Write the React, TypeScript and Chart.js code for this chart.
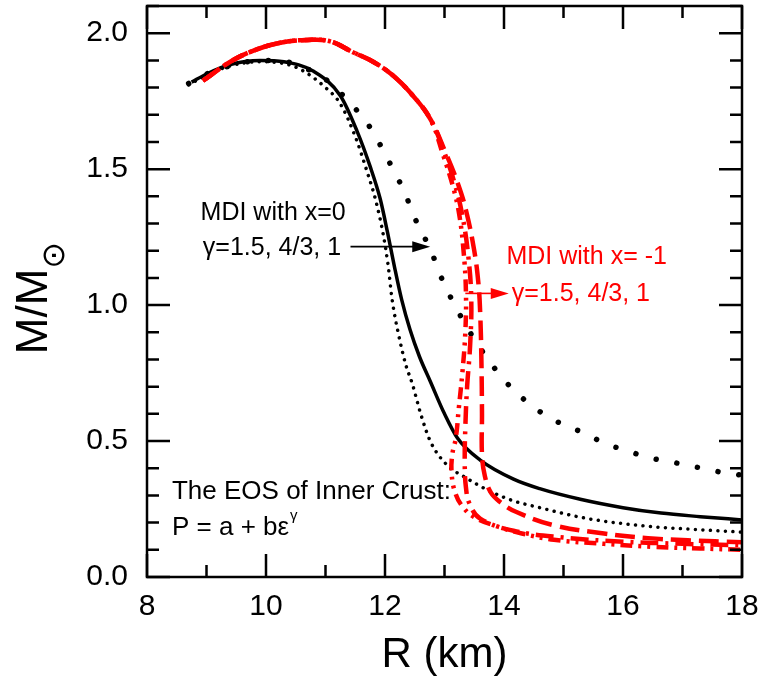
import React, { useEffect, useRef } from 'react';
import { Chart, registerables } from 'chart.js';
Chart.register(...registerables);

const FONT = 'Liberation Sans, Arial, DejaVu Sans, sans-serif';

// axis tick labels
const xTickValues = [8, 10, 12, 14, 16, 18];
const yTickValues = [0, 0.5, 1.0, 1.5, 2.0];

// MDI x=0, coarse dotted
const blkCoarseR = [8.70, 9.0, 9.4, 9.9, 10.24, 10.54, 10.91, 11.23, 11.55, 11.79, 11.99, 12.17, 12.34, 12.48, 12.64, 12.80, 12.93, 13.10, 13.27, 13.47, 13.70, 13.98, 14.30, 14.66, 15.00, 15.40, 15.70, 16.06, 16.40, 16.77, 17.10, 17.44, 17.78, 18.0];
const blkCoarseM = [1.815, 1.85, 1.88, 1.90, 1.90, 1.88, 1.845, 1.785, 1.71, 1.64, 1.56, 1.485, 1.41, 1.33, 1.26, 1.185, 1.11, 1.03, 0.96, 0.885, 0.81, 0.73, 0.66, 0.60, 0.56, 0.525, 0.49, 0.466, 0.44, 0.425, 0.41, 0.395, 0.38, 0.375];

// MDI x=0, solid
const blkSolidR = [8.75, 9.0, 9.4, 9.9, 10.3, 10.8, 11.25, 11.53, 11.75, 11.92, 12.04, 12.16, 12.28, 12.42, 12.58, 12.76, 13.0, 13.22, 13.6, 14.16, 14.6, 15.3, 16.0, 16.64, 17.3, 18.0];
const blkSolidM = [1.82, 1.85, 1.885, 1.90, 1.895, 1.86, 1.77, 1.64, 1.51, 1.39, 1.27, 1.14, 1.02, 0.91, 0.81, 0.72, 0.60, 0.51, 0.43, 0.36, 0.325, 0.285, 0.255, 0.235, 0.222, 0.21];

// MDI x=0, fine dotted
const blkFineR = [8.7, 9.0, 9.4, 9.9, 10.5, 11.0, 11.25, 11.5, 11.7, 11.85, 11.97, 12.05, 12.12, 12.22, 12.35, 12.46, 12.6, 12.76, 13.05, 13.32, 13.77, 14.16, 14.6, 15.4, 16.5, 17.2, 18.0];
const blkFineM = [1.81, 1.845, 1.88, 1.895, 1.875, 1.80, 1.74, 1.62, 1.49, 1.38, 1.26, 1.15, 1.02, 0.90, 0.78, 0.71, 0.60, 0.50, 0.41, 0.37, 0.315, 0.28, 0.255, 0.215, 0.185, 0.175, 0.165];

// MDI x=-1, three crust EOS
const redAR = [8.94, 9.4, 9.78, 10.24, 10.7, 11.08, 11.46, 11.8, 12.13, 12.47, 12.76, 12.98, 13.15, 13.25, 13.32, 13.36, 13.35, 13.3, 13.24, 13.19, 13.13, 13.12, 13.18, 13.3, 13.5, 13.9, 14.3, 14.84, 15.68, 16.5, 17.3, 18.0];
const redAM = [1.825, 1.895, 1.935, 1.965, 1.975, 1.97, 1.93, 1.895, 1.845, 1.77, 1.685, 1.55, 1.43, 1.33, 1.2, 1.05, 0.9, 0.75, 0.62, 0.51, 0.45, 0.38, 0.31, 0.26, 0.22, 0.185, 0.16, 0.137, 0.122, 0.111, 0.105, 0.10];

const redBR = [8.94, 9.4, 9.78, 10.24, 10.7, 11.08, 11.46, 11.8, 12.13, 12.47, 12.76, 13.0, 13.18, 13.3, 13.4, 13.45, 13.43, 13.38, 13.35, 13.34, 13.36, 13.42, 13.6, 14.16, 15.0, 16.0, 17.0, 18.0];
const redBM = [1.825, 1.895, 1.935, 1.965, 1.975, 1.97, 1.93, 1.895, 1.845, 1.77, 1.685, 1.56, 1.44, 1.33, 1.18, 1.02, 0.85, 0.70, 0.55, 0.42, 0.33, 0.27, 0.215, 0.17, 0.145, 0.13, 0.122, 0.117];

const redCR = [8.94, 9.4, 9.78, 10.24, 10.7, 11.08, 11.46, 11.8, 12.13, 12.47, 12.76, 13.02, 13.22, 13.36, 13.5, 13.57, 13.6, 13.62, 13.63, 13.63, 13.68, 13.78, 13.94, 14.2, 14.84, 15.68, 16.42, 17.09, 18.0];
const redCM = [1.825, 1.895, 1.935, 1.965, 1.975, 1.97, 1.93, 1.895, 1.845, 1.77, 1.685, 1.56, 1.45, 1.35, 1.2, 1.08, 0.97, 0.8, 0.6, 0.45, 0.37, 0.31, 0.275, 0.24, 0.19, 0.16, 0.143, 0.135, 0.128];

const pts = (r: number[], m: number[]) => r.map((v, i) => ({ x: v, y: m[i] }));

const RED = '#ff0000';

const decor = {
  id: 'decor',
  afterDraw(chart: any) {
    const { ctx, chartArea: ca, scales } = chart;
    const x = scales.x, y = scales.y;
    const px = (v: number) => x.getPixelForValue(v);
    const py = (v: number) => y.getPixelForValue(v);
    ctx.save();
    // ticks (inward, all four sides)
    ctx.strokeStyle = '#000';
    ctx.lineWidth = 2.5;
    ctx.beginPath();
    for (let v = 8; v <= 18; v++) {
      const p = px(v);
      const len = v % 2 === 0 ? 23 : 12;
      ctx.moveTo(p, ca.bottom); ctx.lineTo(p, ca.bottom - len);
      ctx.moveTo(p, ca.top); ctx.lineTo(p, ca.top + len);
    }
    for (let i = 0; i <= 21; i++) {
      const p = py(i / 10);
      const len = i % 5 === 0 ? 23 : 12;
      ctx.moveTo(ca.left, p); ctx.lineTo(ca.left + len, p);
      ctx.moveTo(ca.right, p); ctx.lineTo(ca.right - len, p);
    }
    ctx.stroke();
    // frame
    ctx.lineWidth = 2.5;
    ctx.strokeRect(ca.left, ca.top, ca.right - ca.left, ca.bottom - ca.top);

    // axis titles
    ctx.fillStyle = '#000';
    ctx.font = `42px ${FONT}`;
    ctx.textAlign = 'center';
    ctx.textBaseline = 'middle';
    ctx.fillText('R (km)', (ca.left + ca.right) / 2, 655);

    ctx.save();
    ctx.translate(35, 298);
    ctx.rotate(-Math.PI / 2);
    ctx.textAlign = 'left';
    ctx.font = `44px ${FONT}`;
    const main = 'M/M';
    const wMain = ctx.measureText(main).width;
    ctx.font = `32px ${FONT}`;
    const wSun = ctx.measureText('⊙').width;
    const start = -(wMain + wSun) / 2;
    ctx.font = `44px ${FONT}`;
    ctx.fillText(main, start, 0);
    ctx.font = `32px ${FONT}`;
    ctx.fillText('⊙', start + wMain, 20);
    ctx.restore();

    // arrows
    const arrow = (x1: number, x2: number, yy: number, col: string) => {
      ctx.strokeStyle = col; ctx.fillStyle = col; ctx.lineWidth = 1.6;
      ctx.beginPath(); ctx.moveTo(x1, yy); ctx.lineTo(x2 - 12, yy); ctx.stroke();
      ctx.beginPath(); ctx.moveTo(x2, yy); ctx.lineTo(x2 - 18, yy - 5.5); ctx.lineTo(x2 - 18, yy + 5.5); ctx.closePath(); ctx.fill();
    };
    arrow(px(11.42), px(12.76), py(1.215), '#000');
    arrow(px(13.35), px(14.08), py(1.043), RED);

    // annotation texts
    ctx.font = `25px ${FONT}`;
    ctx.textBaseline = 'middle';
    ctx.fillStyle = '#000';
    ctx.textAlign = 'center';
    ctx.fillText('MDI with x=0', px(10.12), py(1.339));
    ctx.fillText('γ=1.5, 4/3, 1', px(10.1), py(1.21));
    ctx.fillStyle = RED;
    ctx.fillText('MDI with x= -1', px(15.39), py(1.177));
    ctx.textAlign = 'left';
    ctx.fillText('γ=1.5, 4/3, 1', px(14.13), py(1.041));
    ctx.fillStyle = '#000';
    ctx.font = `26px ${FONT}`;
    ctx.fillText('The EOS of Inner Crust:', px(8.42), py(0.313));
    const pText = 'P = a + bε';
    ctx.fillText(pText, px(8.42), py(0.18));
    const wp = ctx.measureText(pText).width;
    ctx.font = `15px ${FONT}`;
    ctx.fillText('γ', px(8.42) + wp + 1, py(0.18) - 12);
    ctx.restore();
  },
};

const noPad = (s: any) => { s.paddingTop = 0; s.paddingBottom = 0; s.paddingLeft = 0; s.paddingRight = 0; };

export default function App() {
  const ref = useRef<HTMLCanvasElement>(null);
  useEffect(() => {
    const red = { showLine: true, pointRadius: 0, fill: false, tension: 0.4 };
    const blk = { showLine: true, pointRadius: 0, fill: false, cubicInterpolationMode: 'monotone' };
    const chart = new Chart(ref.current as HTMLCanvasElement, {
      type: 'scatter',
      data: {
        datasets: [
          { ...red, data: pts(redCR, redCM), borderColor: RED, borderWidth: 4.5, borderDash: [20, 8], borderCapStyle: 'butt' },
          { ...red, data: pts(redBR, redBM), borderColor: RED, borderWidth: 4.5, borderDash: [18, 7, 3, 7], borderCapStyle: 'butt' },
          { ...red, data: pts(redAR, redAM), borderColor: RED, borderWidth: 4.5, borderDash: [12, 6, 3, 6, 3, 6], borderCapStyle: 'butt' },
          { ...blk, data: pts(blkSolidR, blkSolidM), borderColor: '#000', borderWidth: 3.5 },
          { ...blk, data: pts(blkFineR, blkFineM), borderColor: '#000', borderWidth: 3.5, borderDash: [0.01, 7.5], borderCapStyle: 'round' },
          { ...blk, data: pts(blkCoarseR, blkCoarseM), borderColor: '#000', borderWidth: 5.5, borderDash: [0.01, 21], borderCapStyle: 'round' },
        ] as any,
      },
      options: {
        responsive: false,
        animation: false,
        devicePixelRatio: 1,
        layout: { padding: { top: 6, right: 21, left: 0, bottom: 0 } },
        plugins: { legend: { display: false }, tooltip: { enabled: false } },
        scales: {
          x: {
            type: 'linear', min: 8, max: 18,
            afterBuildTicks: (s: any) => { s.ticks = xTickValues.map((v) => ({ value: v })); },
            afterFit: (s: any) => { s.height = 102; noPad(s); },
            grid: { display: false, drawTicks: false },
            border: { display: false },
            ticks: { color: '#000', font: { family: FONT, size: 30 }, padding: 12, maxRotation: 0, autoSkip: false, callback: (v: any) => String(v) },
          },
          y: {
            type: 'linear', min: 0, max: 2.1,
            afterBuildTicks: (s: any) => { s.ticks = yTickValues.map((v) => ({ value: v })); },
            afterFit: (s: any) => { s.width = 147; noPad(s); },
            grid: { display: false, drawTicks: false },
            border: { display: false },
            ticks: { color: '#000', font: { family: FONT, size: 30 }, padding: 19, autoSkip: false, callback: (v: any) => Number(v).toFixed(1) },
          },
        },
      } as any,
      plugins: [decor],
    });
    return () => chart.destroy();
  }, []);
  return (
    <div style={{ position: 'fixed', left: 0, top: 0, width: 763, height: 679, background: '#fff' }}>
      <canvas ref={ref} width={763} height={679} style={{ display: 'block' }} />
    </div>
  );
}
